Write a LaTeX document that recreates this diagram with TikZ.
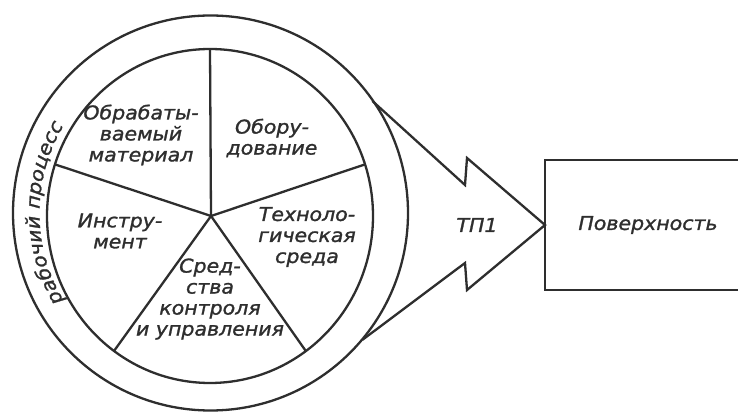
\documentclass[tikz,border=0pt]{standalone}
\usepackage{fontspec}
\newfontfamily\techfont{DejaVu Sans}[FakeStretch=1.08, FakeBold=1.3]
\usetikzlibrary{decorations.text,calc}
\definecolor{ink}{HTML}{2E2E2E}
\newcommand\techsize{\fontsize{19}{21}\selectfont}

\begin{document}
\begin{tikzpicture}[x=1pt,y=1pt,
  rim/.style={draw=ink, line width=2.3pt},
  txt/.style={font=\techfont\itshape\techsize, text=ink, align=center, inner sep=0pt}]
\clip (0,0) rectangle (738,412);
\fill[white] (0,0) rectangle (738,412);

% outer ring and inner disc
\draw[rim] (210.5,199) circle[radius=197.5];
\draw[rim] (210,196) ellipse[x radius=163, y radius=167];

% five sectors of the disc
\coordinate (hub) at (211,196);
\draw[rim] (hub) -- (210,363);
\draw[rim] (hub) -- (365,247.6);
\draw[rim] (hub) -- (305.8,61);
\draw[rim] (hub) -- (114,61);
\draw[rim] (hub) -- (55,247.6);

% sector labels
\node[txt] (mat)  at (141,277) {Обрабаты-\\ваемый\\материал};
\node[txt] (eq)   at (272,274) {Обору-\\дование};
\node[txt] (tool) at (120,181) {Инстру-\\мент};
\node[txt] (env)  at (307,175) {Техноло-\\гическая\\среда};
\node[txt] (ctrl) at (210,113) {Сред-\\ства\\контроля\\и управления};

% ring caption along the arc
\path[decorate, decoration={text along path,
    text={|\techfont\itshape\techsize|рабочий процесс},
    text align=center, text color=ink}]
  (210.5,199) ++(215:171) arc[start angle=215, end angle=145, radius=171];

% result block
\node[rim, txt, outer sep=0pt, minimum width=206pt, minimum height=130pt] (surf)
  at (648,187) {Поверхность};

% notched arrow from the ring to the block
\draw[rim, line join=miter] (372.4,311) -- (465,227) -- (467,254) -- (surf.west)
  -- (467,122) -- (465,149) -- (362.5,72.2);
\node[txt] (tp) at (477,187) {ТП1};
\end{tikzpicture}
\end{document}
